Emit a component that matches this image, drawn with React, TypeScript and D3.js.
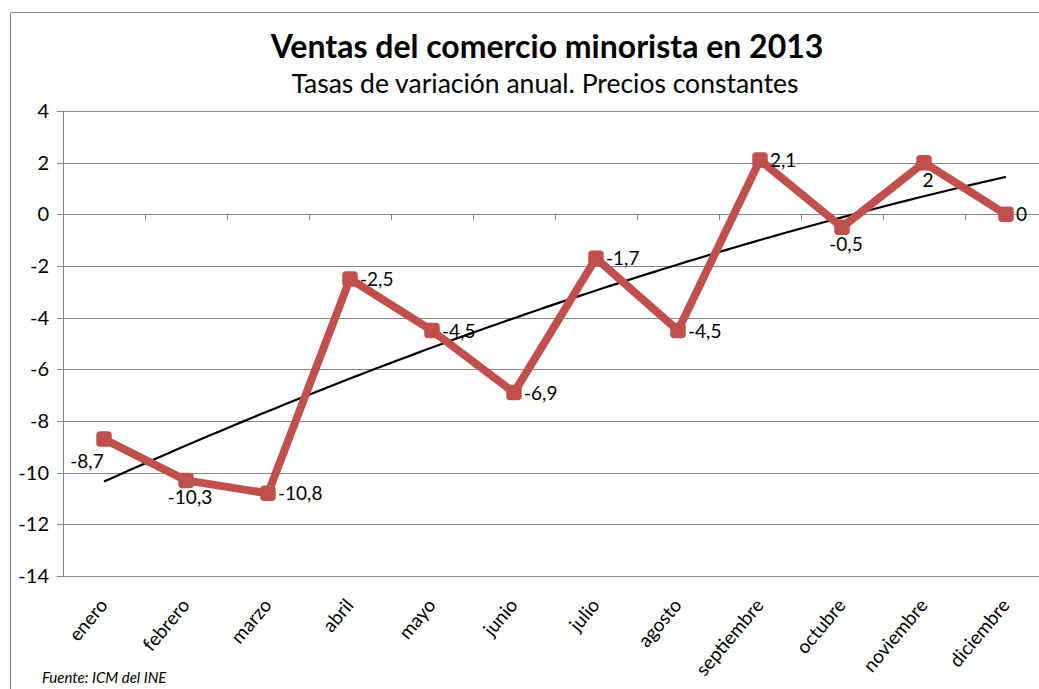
import React from "react";
import * as d3 from "d3";

const months = ["enero","febrero","marzo","abril","mayo","junio","julio","agosto","septiembre","octubre","noviembre","diciembre"];
const values = [-8.7,-10.3,-10.8,-2.5,-4.5,-6.9,-1.7,-4.5,2.1,-0.5,2,0];
const labels = ["-8,7","-10,3","-10,8","-2,5","-4,5","-6,9","-1,7","-4,5","2,1","-0,5","2","0"];
const labelPlacement = ["belowLeft","below","right","right","right","right","right","right","right","below","below","right"];
const yTicks = [4,2,0,-2,-4,-6,-8,-10,-12,-14];

const W = 1039, H = 689;
const FONT = "Lato, 'Open Sans', sans-serif";

function quadFit(xs: number[], ys: number[]) {
  // least squares y = a + b x + c x^2
  const s = [0,0,0,0,0], t = [0,0,0];
  xs.forEach((x, i) => {
    const y = ys[i];
    for (let k = 0; k < 5; k++) s[k] += Math.pow(x, k);
    for (let k = 0; k < 3; k++) t[k] += y * Math.pow(x, k);
  });
  const M = [[s[0],s[1],s[2],t[0]],[s[1],s[2],s[3],t[1]],[s[2],s[3],s[4],t[2]]];
  for (let i = 0; i < 3; i++) {
    for (let j = i + 1; j < 3; j++) {
      const f = M[j][i] / M[i][i];
      for (let k = i; k < 4; k++) M[j][k] -= f * M[i][k];
    }
  }
  const r = [0,0,0];
  for (let i = 2; i >= 0; i--) {
    let v = M[i][3];
    for (let k = i + 1; k < 3; k++) v -= M[i][k] * r[k];
    r[i] = v / M[i][i];
  }
  return (x: number) => r[0] + r[1] * x + r[2] * x * x;
}

export default function App() {
  const left = 63, right = 63 + 82 * 12;
  const x = d3.scaleBand<string>().domain(months).range([left, right]);
  const y = d3.scaleLinear().domain([-14, 4]).range([576, 111]);
  const cx = (m: string) => (x(m) as number) + x.bandwidth() / 2;

  const line = d3.line<number>().x((_, i) => cx(months[i])).y(d => y(d));
  const idx = months.map((_, i) => i + 1);
  const f = quadFit(idx, values);
  const trendPts = d3.range(1, 12.001, 0.1).map(t => [left + x.bandwidth() * (t - 0.5), y(f(t))] as [number, number]);
  const trend = d3.line()(trendPts) as string;

  return (
    <svg width={W} height={H} style={{ position: "absolute", left: 0, top: 0, background: "#fff" }}>
      <rect x={0} y={0} width={W} height={H} fill="#fff" />
      <path d={`M10.5,${H} V12.5 H${W}`} fill="none" stroke="#868686" strokeWidth={1} />
      <text x={547} y={58} textAnchor="middle" fontFamily={FONT} fontWeight="bold" fontSize={32} fill="#000">Ventas del comercio minorista en 2013</text>
      <text x={545} y={93} textAnchor="middle" fontFamily={FONT} fontSize={26.5} fill="#000">Tasas de variación anual. Precios constantes</text>
      {yTicks.map(t => (
        <g key={t}>
          <line x1={57} x2={W} y1={Math.round(y(t)) + 0.5} y2={Math.round(y(t)) + 0.5} stroke="#868686" strokeWidth={1} />
          <text x={49} y={y(t)} dy="0.35em" textAnchor="end" fontFamily={FONT} fontSize={20} fill="#000">{t}</text>
        </g>
      ))}
      <line x1={left + 0.5} x2={left + 0.5} y1={y(4)} y2={y(-14)} stroke="#868686" strokeWidth={1} />
      {months.map((m) => (
        <line key={"tk" + m} x1={Math.round((x(m) as number) + x.bandwidth()) + 0.5} x2={Math.round((x(m) as number) + x.bandwidth()) + 0.5} y1={y(0)} y2={y(0) + 6} stroke="#868686" strokeWidth={1} />
      ))}
      {months.map(m => (
        <text key={"xl" + m} transform={`translate(${cx(m) - 1},${601}) rotate(-50)`} textAnchor="end" dominantBaseline="central" fontFamily={FONT} fontSize={19} fill="#000">{m}</text>
      ))}
      <path d={trend} fill="none" stroke="#000" strokeWidth={2.2} />
      <path d={line(values) as string} fill="none" stroke="#C0504D" strokeWidth={8} strokeLinejoin="round" />
      {values.map((v, i) => (
        <rect key={"mk" + i} x={cx(months[i]) - 7} y={y(v) - 7} width={14} height={14} rx={3} fill="#C0504D" stroke="#C0504D" strokeWidth={1.5} />
      ))}
      {values.map((v, i) => {
        const px = cx(months[i]), py = y(v);
        const p = labelPlacement[i];
        let tx = px + 10, ty = py + 7, anchor = "start";
        if (p === "below") { tx = px + 4; ty = py + 24; anchor = "middle"; }
        if (p === "belowLeft") { tx = px - 17; ty = py + 29; anchor = "middle"; }
        return <text key={"lb" + i} x={tx} y={ty} textAnchor={anchor} fontFamily={FONT} fontSize={19} fill="#000">{labels[i]}</text>;
      })}
      <text x={42} y={683} fontFamily={FONT} fontStyle="italic" fontSize={15} fill="#000">Fuente: ICM del INE</text>
    </svg>
  );
}
